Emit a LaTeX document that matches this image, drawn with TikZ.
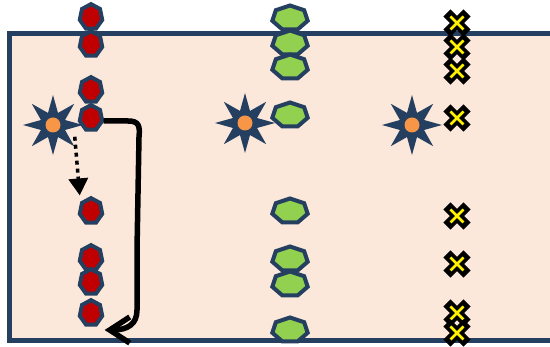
\documentclass[tikz,border=0pt]{standalone}
\usetikzlibrary{shapes.geometric,arrows.meta}
\begin{document}
\begin{tikzpicture}[x=1pt,y=1pt,
  redcell/.style={regular polygon,regular polygon sides=7,minimum size=23pt,inner sep=0pt,
    yscale=1.12,draw=cellnavy,line width=4pt,fill=cellred},
  greencell/.style={regular polygon,regular polygon sides=7,minimum size=25pt,inner sep=0pt,
    xscale=1.45,draw=cellnavy,line width=4pt,fill=cellgreen},
  burst/.style={star,star points=8,star point ratio=2.3,minimum size=60pt,inner sep=0pt,fill=cellnavy},
  core/.style={circle,minimum size=15pt,inner sep=0pt,fill=coreorange},
  xmark/.pic={
    \draw[black,line width=10pt,line cap=rect,line join=round] (-6.5,-6.5) -- (6.5,6.5) (-6.5,6.5) -- (6.5,-6.5);
    \draw[yellow,line width=2.5pt] (-6.5,-6.5) -- (6.5,6.5) (-6.5,6.5) -- (6.5,-6.5);
  },
  dotarrow/.style={line width=3.5pt,dash pattern=on 4pt off 4pt,-{Triangle[length=17pt,width=19pt]}},
  looparrow/.style={line width=5.5pt,-{Straight Barb[length=20pt,width=26pt]}}]
  \definecolor{cellnavy}{RGB}{36,63,96}
  \definecolor{cellred}{RGB}{192,0,0}
  \definecolor{cellgreen}{RGB}{146,208,80}
  \definecolor{coreorange}{RGB}{247,150,70}
  \definecolor{dishpeach}{RGB}{252,232,218}

  \useasboundingbox (0,0) rectangle (550,-347);
  \clip (0,0) rectangle (550,-347);

  \fill[dishpeach] (9,-33.5) rectangle (560,-341);
  \draw[cellnavy,line width=5pt] (560,-33.5) -- (9,-33.5) -- (9,-341) -- (560,-341);

  \foreach \i/\y in {1/17,2/44,3/90,4/118,5/211,6/258,7/282,8/313}
    {\node[redcell] (r\i) at (91,-\y) {};}
  \foreach \i/\y in {1/18,2/43,3/67,4/115,5/211,6/259,7/284,8/330}
    {\node[greencell] (g\i) at (290,-\y) {};}
  \foreach \y in {23,47,71,118,216,264,313,333}
    {\pic at (457,-\y) {xmark};}

  \node[burst] (s1) at (53,-125) {};
  \node[core] (c1) at (s1.center) {};
  \node[burst] (s2) at (245,-123) {};
  \node[core] (c2) at (s2.center) {};
  \node[burst] (s3) at (412,-125) {};
  \node[core] (c3) at (s3.center) {};

  \draw[dotarrow,shorten >=6pt] ([yshift=10pt]s1.outer point 6) -- (r5.corner 2);
  \draw[looparrow] ([yshift=-3pt]r4.east) -- (128,-121) .. controls (139,-121) and (140,-126) .. (139,-137)
    -- (137,-250) -- (137,-310) .. controls (137,-324) and (128,-330) .. ([shift={(1pt,-17pt)}]r8.east);
\end{tikzpicture}
\end{document}
